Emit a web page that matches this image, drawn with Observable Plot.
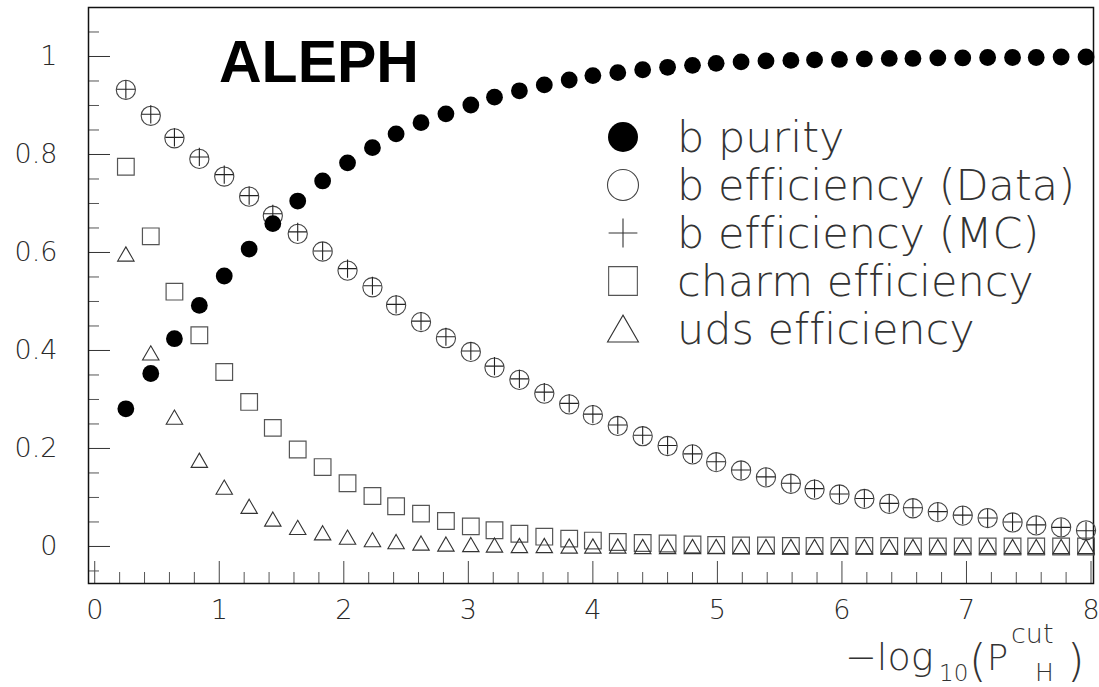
<!DOCTYPE html>
<html>
<head>
<meta charset="utf-8">
<script src="https://cdn.jsdelivr.net/npm/d3@7"></script>
<script src="https://cdn.jsdelivr.net/npm/@observablehq/plot@0.6"></script>
<style>
  body { margin: 0; background: #fff; }
  #chart { position: relative; width: 1099px; height: 687px; }
  #chart text { font-variant-ligatures: none; }
</style>
</head>
<body>
<div id="chart"></div>
<script>
// Cut value -log10(P_H^cut) at which each efficiency/purity point is evaluated
const cutValues = [0.25, 0.45, 0.64, 0.84, 1.04, 1.24, 1.43, 1.63, 1.83, 2.03,
                   2.23, 2.42, 2.62, 2.82, 3.02, 3.21, 3.41, 3.61, 3.81, 4.00,
                   4.20, 4.40, 4.60, 4.80, 4.99, 5.19, 5.39, 5.59, 5.78, 5.98,
                   6.18, 6.38, 6.57, 6.77, 6.97, 7.17, 7.37, 7.56, 7.76, 7.96];

const bPurity = [0.281, 0.353, 0.424, 0.492, 0.552, 0.607, 0.659, 0.705, 0.746, 0.783,
                 0.814, 0.842, 0.865, 0.883, 0.901, 0.917, 0.930, 0.942, 0.952, 0.961,
                 0.967, 0.973, 0.978, 0.982, 0.986, 0.989, 0.991, 0.992, 0.993, 0.994,
                 0.995, 0.996, 0.996, 0.997, 0.997, 0.998, 0.998, 0.998, 0.999, 0.999];

const bEffData = [0.932, 0.879, 0.833, 0.791, 0.755, 0.714, 0.675, 0.638, 0.602, 0.563,
                  0.529, 0.492, 0.458, 0.425, 0.397, 0.365, 0.340, 0.312, 0.290, 0.268,
                  0.246, 0.225, 0.205, 0.188, 0.172, 0.155, 0.141, 0.128, 0.116, 0.106,
                  0.097, 0.087, 0.078, 0.070, 0.063, 0.058, 0.049, 0.043, 0.039, 0.033];

const bEffMC = [0.933, 0.882, 0.835, 0.795, 0.759, 0.716, 0.679, 0.642, 0.603, 0.567,
                0.532, 0.494, 0.460, 0.428, 0.399, 0.368, 0.342, 0.315, 0.292, 0.270,
                0.248, 0.227, 0.206, 0.189, 0.173, 0.156, 0.142, 0.129, 0.118, 0.107,
                0.098, 0.088, 0.079, 0.071, 0.064, 0.058, 0.050, 0.044, 0.039, 0.032];

const charmEff = [0.775, 0.633, 0.520, 0.431, 0.356, 0.295, 0.242, 0.198, 0.162, 0.129,
                  0.103, 0.082, 0.067, 0.052, 0.041, 0.033, 0.026, 0.020, 0.016, 0.012,
                  0.009, 0.007, 0.006, 0.004, 0.003, 0.002, 0.002, 0.001, 0.001, 0.001,
                  0.001, 0.001, 0.000, 0.000, 0.000, 0.000, 0.000, 0.000, 0.000, 0.000];

const udsEff = [0.597, 0.395, 0.264, 0.176, 0.121, 0.082, 0.056, 0.039, 0.028, 0.019,
                0.014, 0.010, 0.007, 0.005, 0.004, 0.003, 0.002, 0.002, 0.001, 0.001,
                0.001, 0.000, 0.000, 0.000, 0.000, 0.000, 0.000, 0.000, 0.000, 0.000,
                0.000, 0.000, 0.000, 0.000, 0.000, 0.000, 0.000, 0.000, 0.000, 0.000];

// Axis ticks
const xMajorTicks = [0, 1, 2, 3, 4, 5, 6, 7, 8];
const xMinorTicks = d3.range(0, 40).map(i => i * 0.2).filter(v => Math.abs(v - Math.round(v)) > 1e-6);
const yMajorTicks = [0, 0.2, 0.4, 0.6, 0.8, 1];
const yTickLabels = ["0", "0.2", "0.4", "0.6", "0.8", "1"];
const yMinorTicks = [-0.05, 0.05, 0.1, 0.15, 0.25, 0.3, 0.35, 0.45, 0.5, 0.55, 0.65, 0.7, 0.75, 0.85, 0.9, 0.95, 1.05];

const legendNames = ["b purity", "b efficiency (Data)", "b efficiency (MC)", "charm efficiency", "uds efficiency"];

const rows = cutValues.map((x, i) => ({
  x, purity: bPurity[i], data: bEffData[i], mc: bEffMC[i], charm: charmEff[i], uds: udsEff[i]
}));

const W = 1099, H = 687;
const mL = 88, mR = 6, mT = 7, mB = 104;
const innerW = W - mL - mR, innerH = H - mT - mB;
const FONT = "'DejaVu Sans', 'Open Sans', sans-serif";
const INK = "#2a2a2a";

const plot = Plot.plot({
  width: W, height: H,
  marginLeft: mL, marginRight: mR, marginTop: mT, marginBottom: mB,
  x: {domain: [-0.05, 8.02]},
  y: {domain: [-0.0756, 1.1]},
  style: {fontFamily: FONT, fontSize: "27px", fontWeight: 200, color: INK, background: "#fff", overflow: "visible"},
  marks: [
    Plot.axisX(xMajorTicks, {tickSize: 0, tickPadding: 16, label: null, tickFormat: d => String(d)}),
    Plot.axisY(yMajorTicks, {tickSize: 0, tickPadding: 31, label: null,
      tickFormat: d => yTickLabels[yMajorTicks.indexOf(d)]}),
    // inward ticks along the left and bottom edges
    Plot.tickX(xMinorTicks, {x: d => d, insetTop: innerH - 11, stroke: "#555"}),
    Plot.tickX(xMajorTicks, {x: d => d, insetTop: innerH - 22, stroke: "#444"}),
    Plot.tickY(yMinorTicks, {y: d => d, insetRight: innerW - 11, stroke: "#555"}),
    Plot.tickY(yMajorTicks, {y: d => d, insetRight: innerW - 22, stroke: "#333"}),
    Plot.frame({stroke: "#111", strokeWidth: 1.5}),
    // efficiencies
    Plot.dot(rows, {x: "x", y: "data", symbol: "circle", r: 9.6, fill: "none", stroke: "#444", strokeWidth: 1.1}),
    Plot.dot(rows, {x: "x", y: "mc", symbol: "plus", r: 5.9, stroke: "#222", strokeWidth: 1.1}),
    Plot.dot(rows, {x: "x", y: "charm", symbol: "square", r: 9.4, fill: "none", stroke: "#555", strokeWidth: 1.2}),
    Plot.dot(rows, {x: "x", y: "uds", symbol: "triangle", r: 6.1, dy: 2.4, fill: "none", stroke: "#333", strokeWidth: 1.1}),
    // purity on top
    Plot.dot(rows, {x: "x", y: "purity", symbol: "circle", r: 8.4, fill: "#000", stroke: "none"})
  ]
});

document.getElementById("chart").appendChild(plot);

const svg = d3.select(plot);

// experiment label
svg.append("text")
  .attr("x", 219).attr("y", 82)
  .attr("text-anchor", "start")
  .attr("font-family", "'Liberation Sans', Arial, sans-serif")
  .attr("font-weight", 700).attr("font-size", 59)
  .attr("fill", "#000")
  .text("ALEPH");

// legend
const legendSymbols = [
  {type: d3.symbolCircle, r: 15, fill: "#000", stroke: "none"},
  {type: d3.symbolCircle, r: 15.5, fill: "none", stroke: "#444"},
  {type: d3.symbolPlus, r: 9.3, fill: "none", stroke: "#333"},
  {type: d3.symbolSquare, r: 16.2, fill: "none", stroke: "#555"},
  {type: d3.symbolTriangle, r: 11.5, fill: "none", stroke: "#333"}
];
const legend = svg.append("g").attr("transform", "translate(623,137)");
legendNames.forEach((name, i) => {
  const s = legendSymbols[i];
  const g = legend.append("g").attr("transform", `translate(0,${i * 48})`);
  g.append("path")
    .attr("d", d3.symbol(s.type, Math.PI * s.r * s.r)())
    .attr("transform", s.type === d3.symbolTriangle ? "translate(0,4)" : null)
    .attr("fill", s.fill).attr("stroke", s.stroke).attr("stroke-width", 1.1);
  g.append("text")
    .attr("x", 54).attr("dy", "0.36em")
    .attr("text-anchor", "start")
    .attr("font-family", FONT).attr("font-weight", 200).attr("font-size", 43)
    .attr("fill", "#333")
    .text(name);
});

// axis title: -log10(P_H^cut)
const title = svg.append("g")
  .attr("font-family", FONT).attr("font-weight", 200).attr("fill", "#333")
  .attr("text-anchor", "start");
title.append("text").attr("x", 845).attr("y", 670).attr("font-size", 38).text("\u2212log");
title.append("text").attr("x", 939).attr("y", 681).attr("font-size", 23).text("10");
title.append("text").attr("x", 969).attr("y", 676).attr("font-size", 45).text("(");
title.append("text").attr("x", 987).attr("y", 670).attr("font-size", 35).text("P");
title.append("text").attr("x", 1011).attr("y", 643).attr("font-size", 27).text("cut");
title.append("text").attr("x", 1035).attr("y", 681).attr("font-size", 25).text("H");
title.append("text").attr("x", 1067).attr("y", 676).attr("font-size", 45).text(")");
</script>
</body>
</html>
